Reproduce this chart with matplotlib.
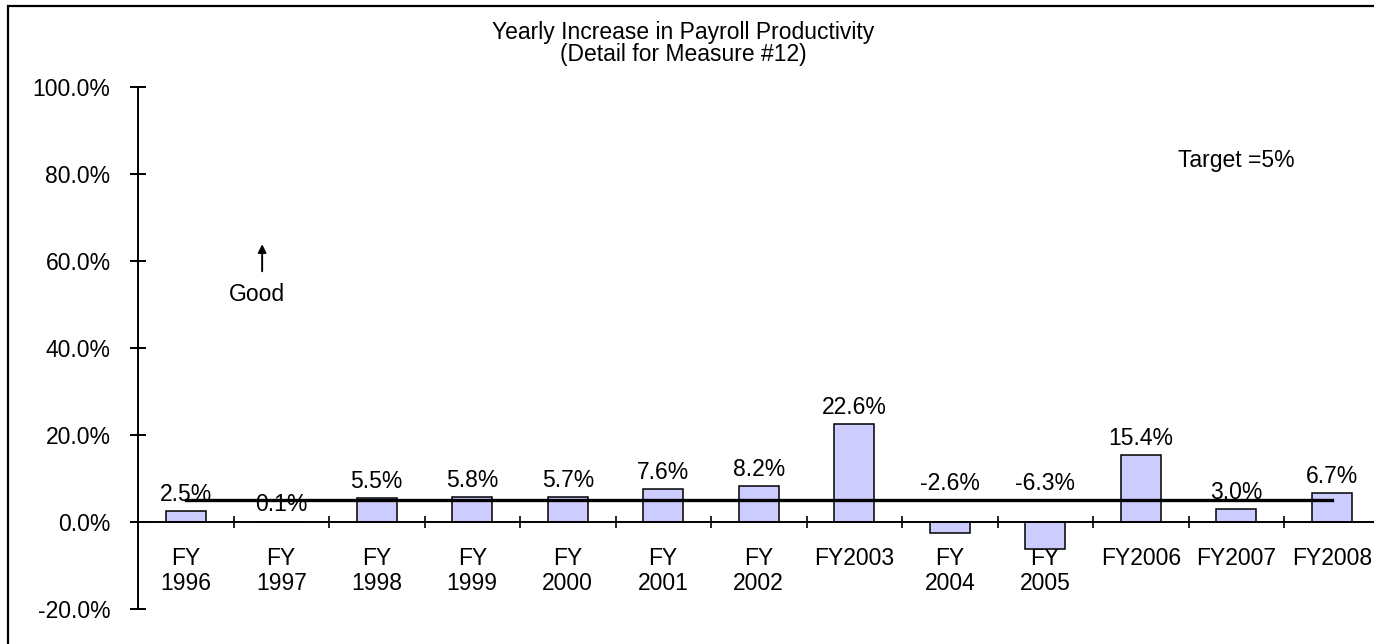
import matplotlib.pyplot as plt
from matplotlib.patches import Rectangle
from matplotlib.ticker import FuncFormatter, FixedLocator
import numpy as np

plt.rcParams['font.family'] = ['Liberation Sans', 'DejaVu Sans']
FS = 16.5

# chart data
years = ['FY\n1996', 'FY\n1997', 'FY\n1998', 'FY\n1999', 'FY\n2000', 'FY\n2001',
         'FY\n2002', 'FY2003', 'FY\n2004', 'FY\n2005', 'FY2006', 'FY2007', 'FY2008']
increase = [2.5, 0.1, 5.5, 5.8, 5.7, 7.6, 8.2, 22.6, -2.6, -6.3, 15.4, 3.0, 6.7]
target = 5.0
y_ticks = [-20, 0, 20, 40, 60, 80, 100]

fig = plt.figure(figsize=(13.74, 6.44), dpi=100)
ax = fig.add_axes([138 / 1374, 1 - 609 / 644, 1241.5 / 1374, 522 / 644])

x = np.arange(len(years))
ax.bar(x, increase, width=0.42, color='#CCCCFF', edgecolor='black', linewidth=1.1, zorder=2)

# target line across all categories
ax.plot([x[0], x[-1]], [target, target], color='black', linewidth=2.4, zorder=3)

# value labels
for xi, v in zip(x, increase):
    base = v if v >= 0 else 0
    off = 12 if v >= 0 else 28
    ax.annotate(f'{v:.1f}%', (xi, base), xytext=(0, off), textcoords='offset points',
                ha='center', va='center', fontsize=FS, zorder=4)

ax.set_xlim(-0.5, len(years) - 0.5)
ax.set_ylim(-20, 100)

ax.spines['top'].set_visible(False)
ax.spines['right'].set_visible(False)
ax.spines['bottom'].set_position(('data', 0))
ax.spines['left'].set_linewidth(1.4)
ax.spines['bottom'].set_linewidth(1.4)

ax.set_yticks(y_ticks)
ax.yaxis.set_major_formatter(FuncFormatter(lambda v, p: f'{v:.1f}%'))
ax.tick_params(axis='y', direction='inout', length=11.5, width=1.4, labelsize=FS, pad=14)

ax.set_xticks(x)
ax.set_xticklabels(years, fontsize=FS, linespacing=1.1)
ax.xaxis.set_minor_locator(FixedLocator(x[:-1] + 0.5))
ax.tick_params(axis='x', which='major', length=0, pad=18)
ax.tick_params(axis='x', which='minor', direction='inout', length=9, width=1.2)

# titles and notes
fig.text(0.497, 1 - 33 / 644, 'Yearly Increase in Payroll Productivity',
         ha='center', va='center', fontsize=FS)
fig.text(0.497, 1 - 55 / 644, '(Detail for Measure #12)',
         ha='center', va='center', fontsize=FS)
ax.text(11.0, 83.2, 'Target =5%', ha='center', va='center', fontsize=FS)
ax.text(0.75, 52.2, 'Good', ha='center', va='center', fontsize=FS)
ax.annotate('', xy=(0.8, 64.5), xytext=(0.8, 57.0),
            arrowprops=dict(arrowstyle='-|>', color='black', lw=1.4, mutation_scale=12))

# outer border of the chart area
fig.patches.append(Rectangle((8 / 1374, -0.2), 1.2, 1.2 - 6 / 644,
                             transform=fig.transFigure, fill=False,
                             edgecolor='black', linewidth=1.6, clip_on=False))

fig.savefig('out.png', dpi=100)
